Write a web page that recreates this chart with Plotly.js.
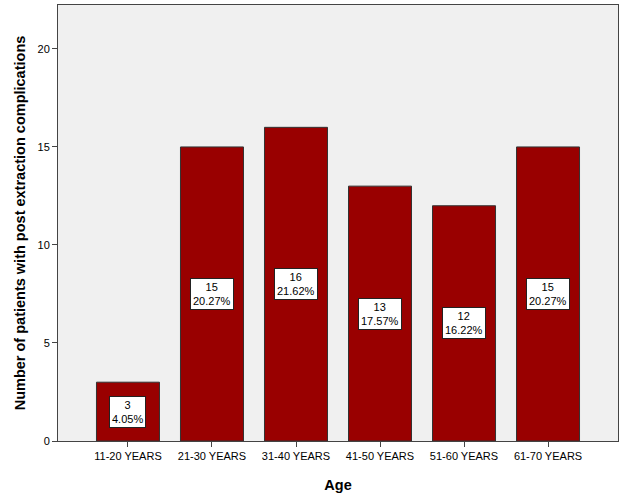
<!DOCTYPE html>
<html>
<head>
<meta charset="utf-8">
<script src="https://cdn.plot.ly/plotly-3.0.1.min.js"></script>
<style>
  html, body { margin: 0; padding: 0; background: #ffffff; }
  #chart { width: 625px; height: 499px; }
</style>
</head>
<body>
<div id="chart"></div>
<script>
const ageGroups = ['11-20 YEARS', '21-30 YEARS', '31-40 YEARS', '41-50 YEARS', '51-60 YEARS', '61-70 YEARS'];
const patientCounts = [3, 15, 16, 13, 12, 15];
const percentLabels = ['4.05%', '20.27%', '21.62%', '17.57%', '16.22%', '20.27%'];

const data = [
    {
        type: 'bar',
        x: ageGroups,
        y: patientCounts,
        width: 0.75,
        marker: {
            color: '#990000',
            line: { color: '#333333', width: 1 },
        },
        hoverinfo: 'x+y',
    },
];

// value boxes sit at half the bar height
const annotations = ageGroups.map((group, i) => ({
    x: group,
    y: patientCounts[i] / 2,
    xref: 'x',
    yref: 'y',
    text: patientCounts[i] + '<br>' + percentLabels[i],
    showarrow: false,
    bgcolor: '#ffffff',
    bordercolor: '#222222',
    borderwidth: 1,
    borderpad: 2,
    font: { family: 'Liberation Sans, Arial, sans-serif', size: 11, color: '#000000' },
}));

const layout = {
    width: 625,
    height: 499,
    margin: { l: 58, r: 7, t: 5, b: 58 },
    paper_bgcolor: '#ffffff',
    plot_bgcolor: '#f0f0f0',
    showlegend: false,
    bargap: 0.25,
    font: { family: 'Liberation Sans, Arial, sans-serif', size: 11, color: '#000000' },
    xaxis: {
        type: 'category',
        range: [-0.833, 5.833],
        showline: true,
        linecolor: '#444444',
        linewidth: 1,
        mirror: true,
        ticks: 'outside',
        ticklen: 5,
        tickcolor: '#444444',
        showgrid: false,
        tickfont: { size: 11 },
        title: {
            text: 'Age',
            font: { size: 14.5, weight: 'bold' },
            standoff: 18,
        },
    },
    yaxis: {
        range: [0, 22.24],
        tickvals: [0, 5, 10, 15, 20],
        showline: true,
        linecolor: '#444444',
        linewidth: 1,
        mirror: true,
        ticks: 'outside',
        ticklen: 5,
        tickcolor: '#444444',
        showgrid: false,
        zeroline: false,
        tickfont: { size: 11 },
        title: {
            text: 'Number of patients with post extraction complications',
            font: { size: 14.5, weight: 'bold' },
            standoff: 8,
        },
    },
    annotations: annotations,
};

Plotly.newPlot('chart', data, layout, { displayModeBar: false, staticPlot: true });
</script>
</body>
</html>
